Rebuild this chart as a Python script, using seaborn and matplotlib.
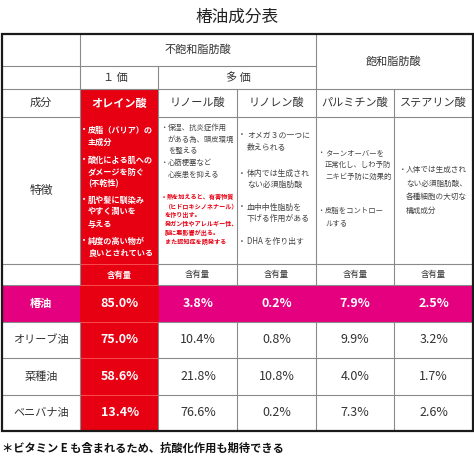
import numpy as np
import pandas as pd
import matplotlib
matplotlib.use('Agg')
import matplotlib.pyplot as plt
import seaborn as sns
from matplotlib.colors import ListedColormap
from matplotlib.patches import Rectangle

# --- données ---
oils = ['椿油', 'オリーブ油', '菜種油', 'ベニバナ油']
acids = ['オレイン酸', 'リノール酸', 'リノレン酸', 'パルミチン酸', 'ステアリン酸']
oleic = [85.0, 75.0, 58.6, 13.4]
linoleic = [3.8, 10.4, 21.8, 76.6]
linolenic = [0.2, 0.8, 10.8, 0.2]
palmitic = [7.9, 9.9, 4.0, 7.3]
stearic = [2.5, 3.2, 1.7, 2.6]
highlight_oil = '椿油'
highlight_acid = 'オレイン酸'
group_unsat = '不飽和脂肪酸'
group_sat = '飽和脂肪酸'
sub_mono = '１ 価'
sub_poly = '多 価'
row_label_comp = '成分'
row_label_feat = '特徴'
amount_label = '含有量'
title = '椿油成分表'
footnote = '＊ビタミン E も含まれるため、抗酸化作用も期待できる'

feat_oleic = [['皮脂（バリア）の', '主成分'],
              ['酸化による肌への', 'ダメージを防ぐ', '(不乾性)'],
              ['肌や髪に馴染み', 'やすく潤いを', '与える'],
              ['純度の高い物が', '良いとされている']]
feat_linoleic = [['保湿、抗炎症作用', 'がある為、頭皮環境', 'を整える'],
                 ['心筋梗塞など', '心疾患を抑える']]
warn_linoleic = ['熱を加えると、有害物質', '（ヒドロキシノネナール）', 'を作り出す。',
                 '発ガン性やアレルギー性、', '脳に悪影響が出る。', 'また認知症を誘発する']
feat_linolenic = [['オメガ３の一つに', '数えられる'],
                  ['体内では生成され', 'ない必須脂肪酸'],
                  ['血中中性脂肪を', '下げる作用がある'],
                  ['DHA を作り出す']]
feat_palmitic = [['ターンオーバーを', '正常化し、しわ予防', 'ニキビ予防に効果的'],
                 ['皮脂をコントロー', 'ルする']]
feat_stearic = [['人体では生成され', 'ない必須脂肪酸、', '各種細胞の大切な', '構成成分']]

# --- style ---
RED = '#e60012'
MAGENTA = '#e4007f'
DARK = '#333333'
GRID = '#8a8a8a'

sns.set_style('white')
plt.rcParams['font.family'] = ['Noto Sans CJK JP', 'DejaVu Sans']

# tableau des valeurs
df = pd.DataFrame({'oil': oils, acids[0]: oleic, acids[1]: linoleic,
                   acids[2]: linolenic, acids[3]: palmitic, acids[4]: stearic})
vals = df[acids].to_numpy()

# code couleur : 0 blanc, 1 rouge, 2 magenta
codes = np.zeros((len(oils), len(acids) + 1))
for i, oil in enumerate(oils):
    if oil == highlight_oil:
        codes[i, :] = 2
    for j, a in enumerate(acids):
        if a == highlight_acid:
            codes[i, j + 1] = 1
annot = np.empty(codes.shape, dtype=object)
annot[:, 0] = oils
for i in range(len(oils)):
    for j in range(len(acids)):
        annot[i, j + 1] = f'{vals[i, j]:.1f}%'

W, H = 474, 459
fig = plt.figure(figsize=(W / 100, H / 100), dpi=100)
# table: px 2..473 en x, 34..431 en y
ax = fig.add_axes([2 / W, 1 - 431 / H, 471 / W, 397 / H])

sns.heatmap(codes, annot=annot, fmt='', cmap=ListedColormap(['white', RED, MAGENTA]),
            vmin=0, vmax=2, cbar=False, linewidths=0, xticklabels=False,
            yticklabels=False, ax=ax, annot_kws={'fontsize': 8.5})

# conversion px -> unités de données
def X(px):
    return (px - 2) / 78.5

def Y(px):
    return (px - 285) / 36.5

ax.set_xlim(0, 6)
ax.set_ylim(Y(431), Y(34))
ax.axis('off')

for t in ax.texts:
    x, y = t.get_position()
    i, j = int(y), int(x)
    if codes[i, j] > 0:
        t.set_color('white')
        t.set_fontweight('bold')
    else:
        t.set_color(DARK)
    t.set_fontsize(8 if j == 0 else 9)

# fond rouge de la colonne oléique dans l'en-tête
ax.add_patch(Rectangle((X(80), Y(89)), X(158) - X(80), Y(285) - Y(89),
                       facecolor=RED, edgecolor='none', zorder=0.5))

# lignes de la grille
def hline(y, x0, x1, c=GRID, lw=0.8):
    ax.plot([X(x0), X(x1)], [Y(y), Y(y)], color=c, lw=lw, zorder=3, solid_capstyle='butt')

def vline(x, y0, y1, c=GRID, lw=0.8):
    ax.plot([X(x), X(x)], [Y(y0), Y(y1)], color=c, lw=lw, zorder=3, solid_capstyle='butt')

hline(66, 2, 316)
hline(89, 2, 473)
for yy in [117, 264, 285]:
    hline(yy, 2, 80)
    hline(yy, 158, 473)
for yy in [322, 358, 395]:
    hline(yy, 2, 80)
    hline(yy, 158, 473)
    hline(yy, 80, 158, c='#ff6b6b', lw=0.5)
hline(264, 80, 158, c='#ff6b6b', lw=0.5)
hline(285, 80, 158, c='#ff6b6b', lw=0.5)
vline(80, 34, 285)
vline(80, 322, 431)
vline(158, 66, 285)
vline(158, 322, 431)
vline(237, 89, 285)
vline(237, 322, 431)
vline(316, 34, 285)
vline(316, 322, 431)
vline(394, 89, 285)
vline(394, 322, 431)
ax.add_patch(Rectangle((0, Y(431)), 6, Y(34) - Y(431), facecolor='none',
                       edgecolor='#1a1a1a', lw=1.6, zorder=4, clip_on=False))

# en-têtes
def txt(xp, yp, s, **kw):
    kw.setdefault('color', DARK)
    kw.setdefault('fontsize', 8)
    kw.setdefault('ha', 'center')
    kw.setdefault('va', 'center')
    ax.text(X(xp), Y(yp), s, zorder=5, **kw)

txt(198, 50, group_unsat)
txt(394, 62, group_sat)
txt(115, 78, sub_mono)
txt(238, 78, sub_poly)
txt(41, 103, row_label_comp)
txt(41, 190, row_label_feat, fontsize=8.5)
col_centers = [119, 197.5, 276.5, 355, 433.5]
for a, cx in zip(acids, col_centers):
    if a == highlight_acid:
        txt(cx, 103, a, color='white', fontweight='bold')
        txt(cx, 275, amount_label, color='white', fontsize=6, fontweight='bold')
    else:
        txt(cx, 103, a)
        txt(cx, 275, amount_label, fontsize=6)

# textes des caractéristiques
def bullets(blocks, x_dot, x_txt, starts, pitch, **kw):
    for lines, y0 in zip(blocks, starts):
        txt(x_dot, y0, '・', ha='center', **kw)
        for k, line in enumerate(lines):
            txt(x_txt, y0 + k * pitch, line, ha='left', **kw)

bullets(feat_oleic, 84, 88, [130, 160, 200, 241], 12, color='white',
        fontweight='bold', fontsize=5.9)
bullets(feat_linoleic, 164, 168, [128, 163], 11.5, fontsize=5.3, color='#444444')
txt(164, 197, '・', color=RED, fontsize=4.4, fontweight='bold')
for k, line in enumerate(warn_linoleic):
    txt(167 if k == 0 else 164.5, 197 + k * 9, line, ha='left', color=RED,
        fontsize=4.4, fontweight='bold')
bullets(feat_linolenic, 242, 247, [135, 173, 207, 242], 11.5, fontsize=5.7, color='#444444')
bullets(feat_palmitic, 321, 325, [153, 211], 12, fontsize=5.3, color='#444444')
bullets(feat_stearic, 403, 406, [170], 13.5, fontsize=5.5, color='#444444')

fig.text(237 / W, 1 - 17 / H, title, ha='center', va='center', fontsize=12, color='#222222')
fig.text(2 / W, 1 - 448 / H, footnote, ha='left', va='center', fontsize=8.1,
         fontweight='bold', color='#111111')

fig.savefig('out.png', dpi=100)
